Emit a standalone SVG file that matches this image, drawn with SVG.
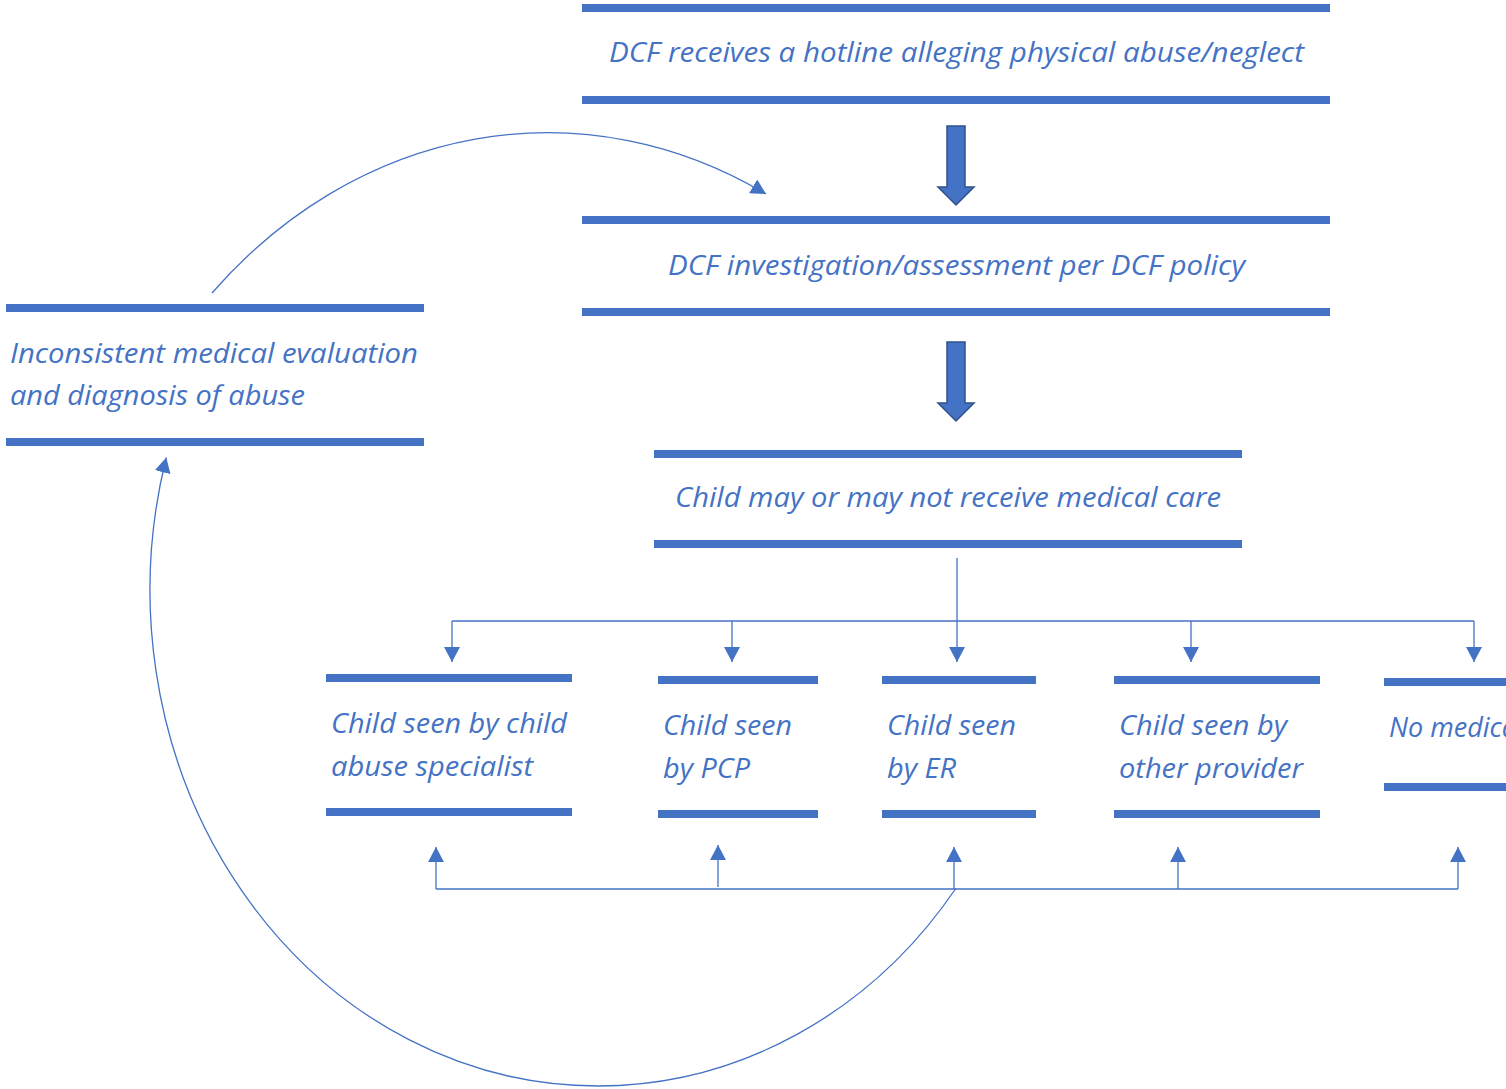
<svg xmlns="http://www.w3.org/2000/svg" width="1506" height="1089" viewBox="0 0 1506 1089">
<style>
.bar{fill:#4472C4}
.t{font-family:"Open Sans","Noto Sans",sans-serif;font-style:italic;font-size:27px;fill:#4472C4}
.c{fill:none;stroke:#4472C4;stroke-width:1.3}
.blk{fill:#4472C4;stroke:#2F528F;stroke-width:1.5}
</style>
<defs>
<marker id="ah" markerUnits="userSpaceOnUse" markerWidth="16" markerHeight="16" refX="15" refY="8" orient="auto">
<path d="M0,0 L15,8 L0,16 z" fill="#4472C4"/>
</marker>
</defs>
<rect width="1506" height="1089" fill="#ffffff"/>
<g id="n1">
<rect class="bar" x="582" y="4" width="748" height="8"/>
<rect class="bar" x="582" y="96" width="748" height="8"/>
<text class="t" x="609" y="62" textLength="695" lengthAdjust="spacingAndGlyphs">DCF receives a hotline alleging physical abuse/neglect</text>
</g>
<g id="n2">
<rect class="bar" x="582" y="216" width="748" height="8"/>
<rect class="bar" x="582" y="308" width="748" height="8"/>
<text class="t" x="668" y="275" textLength="577" lengthAdjust="spacingAndGlyphs">DCF investigation/assessment per DCF policy</text>
</g>
<g id="n3">
<rect class="bar" x="654" y="450" width="588" height="8"/>
<rect class="bar" x="654" y="540" width="588" height="8"/>
<text class="t" x="675" y="507" textLength="546" lengthAdjust="spacingAndGlyphs">Child may or may not receive medical care</text>
</g>
<g id="nleft">
<rect class="bar" x="6" y="304" width="418" height="8"/>
<rect class="bar" x="6" y="438" width="418" height="8"/>
<text class="t" x="10" y="363" textLength="408" lengthAdjust="spacingAndGlyphs">Inconsistent medical evaluation</text>
<text class="t" x="10" y="405" textLength="295" lengthAdjust="spacingAndGlyphs">and diagnosis of abuse</text>
</g>
<g id="nA">
<rect class="bar" x="326" y="674" width="246" height="8"/>
<rect class="bar" x="326" y="808" width="246" height="8"/>
<text class="t" x="331" y="733" textLength="236" lengthAdjust="spacingAndGlyphs">Child seen by child</text>
<text class="t" x="331" y="776" textLength="202" lengthAdjust="spacingAndGlyphs">abuse specialist</text>
</g>
<g id="nB">
<rect class="bar" x="658" y="676" width="160" height="8"/>
<rect class="bar" x="658" y="810" width="160" height="8"/>
<text class="t" x="663" y="735" textLength="129" lengthAdjust="spacingAndGlyphs">Child seen</text>
<text class="t" x="663" y="778" textLength="87" lengthAdjust="spacingAndGlyphs">by PCP</text>
</g>
<g id="nC">
<rect class="bar" x="882" y="676" width="154" height="8"/>
<rect class="bar" x="882" y="810" width="154" height="8"/>
<text class="t" x="887" y="735" textLength="129" lengthAdjust="spacingAndGlyphs">Child seen</text>
<text class="t" x="887" y="778" textLength="69" lengthAdjust="spacingAndGlyphs">by ER</text>
</g>
<g id="nD">
<rect class="bar" x="1114" y="676" width="206" height="8"/>
<rect class="bar" x="1114" y="810" width="206" height="8"/>
<text class="t" x="1119" y="735" textLength="168" lengthAdjust="spacingAndGlyphs">Child seen by</text>
<text class="t" x="1119" y="778" textLength="184" lengthAdjust="spacingAndGlyphs">other provider</text>
</g>
<g id="nE">
<rect class="bar" x="1384" y="678" width="130" height="8"/>
<rect class="bar" x="1384" y="783" width="130" height="8"/>
<text class="t" x="1389" y="737">No medical care</text>
</g>
<g id="connectors">
<polygon class="blk" points="947,126 965,126 965,187 974,187 956,205 938,187 947,187"/>
<polygon class="blk" points="947,342 965,342 965,403 974,403 956,421 938,403 947,403"/>
<path class="c" d="M957,558 V662" marker-end="url(#ah)"/>
<path class="c" d="M452,621 H1474"/>
<path class="c" d="M452,621 V662" marker-end="url(#ah)"/>
<path class="c" d="M732,621 V662" marker-end="url(#ah)"/>
<path class="c" d="M1191,621 V662" marker-end="url(#ah)"/>
<path class="c" d="M1474,621 V662" marker-end="url(#ah)"/>
<path class="c" d="M436,889 H1458"/>
<path class="c" d="M436,889 V847" marker-end="url(#ah)"/>
<path class="c" d="M718,887 V845" marker-end="url(#ah)"/>
<path class="c" d="M954,889 V847" marker-end="url(#ah)"/>
<path class="c" d="M1178,889 V847" marker-end="url(#ah)"/>
<path class="c" d="M1458,889 V847" marker-end="url(#ah)"/>
<path class="c" d="M955.8,888.5 A448,496 0 0,1 598,1086 A448,496 0 0,1 166.3,457.5" marker-end="url(#ah)"/>
<path class="c" d="M212,293 A478,556 0 0,1 766,194" marker-end="url(#ah)"/>
</g>
</svg>
